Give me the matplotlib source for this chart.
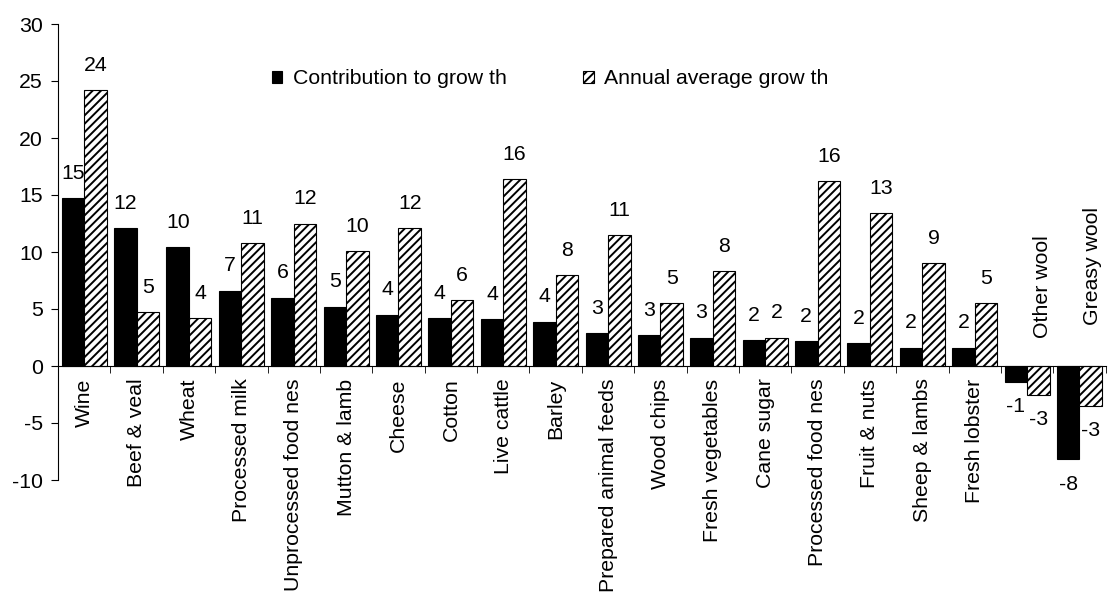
import numpy as np
import matplotlib
matplotlib.use("Agg")
import matplotlib.pyplot as plt

plt.rcParams['font.family'] = ['Liberation Sans', 'DejaVu Sans']
plt.rcParams['hatch.linewidth'] = 1.4
plt.rcParams['axes.unicode_minus'] = False

FONT_SIZE = 15.3

categories = ["Wine", "Beef & veal", "Wheat", "Processed milk", "Unprocessed food nes",
              "Mutton & lamb", "Cheese", "Cotton", "Live cattle", "Barley",
              "Prepared animal feeds", "Wood chips", "Fresh vegetables", "Cane sugar",
              "Processed food nes", "Fruit & nuts", "Sheep & lambs", "Fresh lobster",
              "Other wool", "Greasy wool"]
contribution = [14.7, 12.1, 10.4, 6.6, 6.0, 5.2, 4.5, 4.2, 4.1, 3.9,
                2.9, 2.7, 2.5, 2.3, 2.2, 2.0, 1.6, 1.6, -1.4, -8.2]
annual_avg = [24.2, 4.7, 4.2, 10.8, 12.5, 10.1, 12.1, 5.8, 16.4, 8.0,
              11.5, 5.5, 8.3, 2.5, 16.2, 13.4, 9.0, 5.5, -2.5, -3.5]
contribution_labels = [15, 12, 10, 7, 6, 5, 4, 4, 4, 4, 3, 3, 3, 2, 2, 2, 2, 2, -1, -8]
annual_labels = [24, 5, 4, 11, 12, 10, 12, 6, 16, 8, 11, 5, 8, 2, 16, 13, 9, 5, -3, -3]

fig = plt.figure(figsize=(11.09, 6), dpi=100)
ax = fig.add_axes([58 / 1109, 0.2, 1 - 58 / 1109 - 0.003, 0.76])

x = np.arange(len(categories)) + 0.5
w = 0.43
b1 = ax.bar(x - w / 2, contribution, w, color='black', edgecolor='black', linewidth=0.8,
            label="Contribution to grow th")
b2 = ax.bar(x + w / 2, annual_avg, w, color='white', edgecolor='black', linewidth=0.8,
            hatch='////', label="Annual average grow th")

def add_labels(bars, labels):
    for bar, lab in zip(bars, labels):
        h = bar.get_height()
        cx = bar.get_x() + bar.get_width() / 2
        if h >= 0:
            ax.annotate(str(lab), (cx, h), xytext=(0, 11), textcoords='offset points',
                        ha='center', va='bottom', fontsize=FONT_SIZE, clip_on=False)
        else:
            ax.annotate(str(lab), (cx, h), xytext=(0, -11), textcoords='offset points',
                        ha='center', va='top', fontsize=FONT_SIZE, clip_on=False)

add_labels(b1, contribution_labels)
add_labels(b2, annual_labels)

ax.set_xlim(0, len(categories))
ax.set_ylim(-10, 30)
ax.set_yticks(range(-10, 31, 5))

ax.spines['top'].set_visible(False)
ax.spines['right'].set_visible(False)
ax.spines['bottom'].set_position(('data', 0))
ax.spines['bottom'].set_linewidth(0.8)
ax.spines['left'].set_linewidth(0.8)

ax.set_xticks(x)
ax.set_xticklabels(categories[:-2] + ["", ""], rotation=90, fontsize=FONT_SIZE)
ax.set_xticks(np.arange(len(categories) + 1), minor=True)
ax.tick_params(axis='x', which='major', length=0, pad=9)
ax.tick_params(axis='x', which='minor', length=5, direction='out')
ax.tick_params(axis='y', length=5, direction='out', labelsize=FONT_SIZE, pad=6)

# the two negative categories have their names above the axis
ax.text(x[-2] + 0.3, 2.5, categories[-2], rotation=90, ha='center', va='bottom',
        fontsize=FONT_SIZE)
ax.text(x[-1] + 0.25, 3.6, categories[-1], rotation=90, ha='center', va='bottom',
        fontsize=FONT_SIZE)

fig.legend(handles=[b1, b2], loc='center left', bbox_to_anchor=(261 / 1109, 1 - 79 / 600),
           ncol=2, frameon=False, fontsize=FONT_SIZE, handlelength=0.5, handleheight=0.5,
           handletextpad=0.5, columnspacing=3.6, borderpad=0)

fig.savefig("out.png", dpi=100)
